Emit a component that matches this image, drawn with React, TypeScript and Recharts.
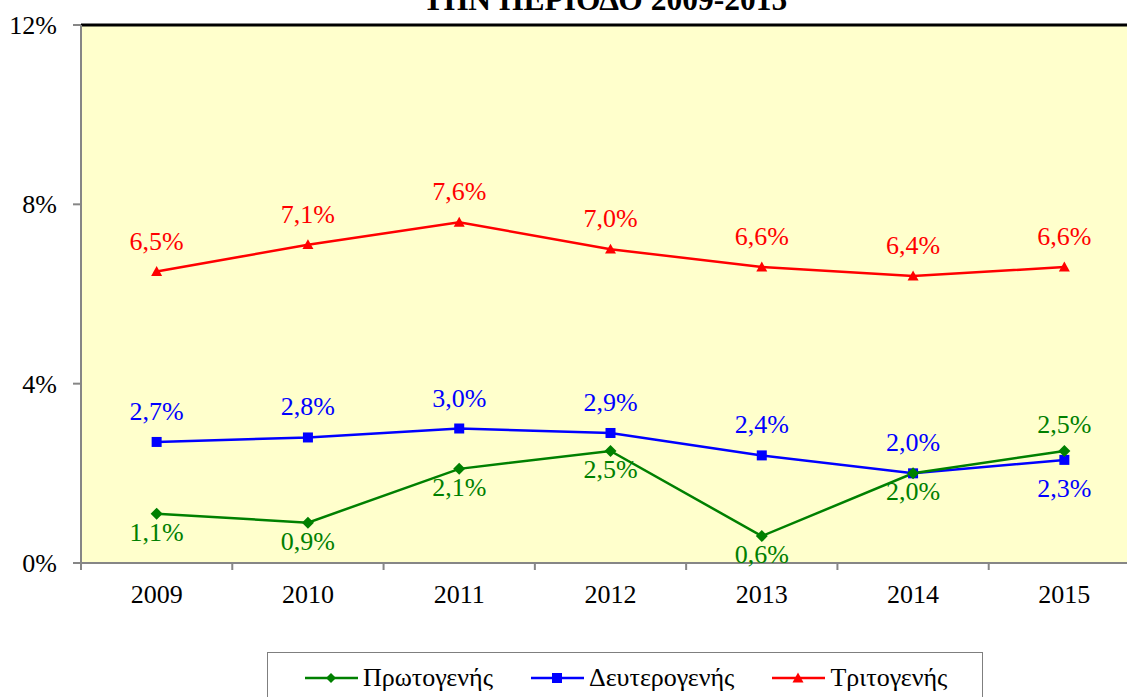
import React from 'react'
import { LineChart, Line, XAxis, YAxis, CartesianGrid, ReferenceLine, LabelList } from 'recharts'

const years = ['2009', '2010', '2011', '2012', '2013', '2014', '2015']
const primary = [1.1, 0.9, 2.1, 2.5, 0.6, 2.0, 2.5]
const secondary = [2.7, 2.8, 3.0, 2.9, 2.4, 2.0, 2.3]
const tertiary = [6.5, 7.1, 7.6, 7.0, 6.6, 6.4, 6.6]
const yTicks = [0, 4, 8, 12]
const seriesNames = ['Πρωτογενής', 'Δευτερογενής', 'Τριτογενής']
const title = 'ΤΗΝ ΠΕΡΙΟΔΟ 2009-2015'

const COLORS = {
  primary: '#008000',
  secondary: '#0000FF',
  tertiary: '#FF0000',
}

const FONT = 'Liberation Serif, Times New Roman, serif'
const CHART_W = 1160
const CHART_H = 697
const Y_AXIS_W = 81
const MARGIN = { top: 25, right: 20, left: 0, bottom: 94 }
const BAND = (CHART_W - Y_AXIS_W - MARGIN.right) / years.length

const data = years.map((year, i) => ({
  year,
  primary: primary[i],
  secondary: secondary[i],
  tertiary: tertiary[i],
}))

const fmt = (v: number) => v.toFixed(1).replace('.', ',') + '%'

// marker shapes
const Diamond = ({ cx, cy, color, s = 6 }: any) => (
  <path d={`M${cx},${cy - s}L${cx + s},${cy}L${cx},${cy + s}L${cx - s},${cy}Z`} fill={color} />
)
const Square = ({ cx, cy, color, s = 5 }: any) => (
  <rect x={cx - s} y={cy - s} width={s * 2} height={s * 2} fill={color} />
)
const Triangle = ({ cx, cy, color, s = 5.5 }: any) => (
  <path d={`M${cx},${cy - s}L${cx + s},${cy + s * 0.8}L${cx - s},${cy + s * 0.8}Z`} fill={color} />
)

const makeLabel = (color: string, isAbove: (i: number) => boolean, above: number, below: number) =>
  (props: any) => {
    const { x, y, value, index } = props
    if (x == null || y == null) return null
    const up = isAbove(index)
    return (
      <text
        x={x}
        y={up ? y - above : y + below}
        textAnchor="middle"
        fill={color}
        style={{ fontSize: 26, fontFamily: FONT }}
      >
        {fmt(value)}
      </text>
    )
  }

const XTick = ({ x, y, payload }: any) => (
  <g>
    <line x1={x - BAND / 2} x2={x - BAND / 2} y1={y} y2={y + 7} stroke="#868686" strokeWidth={2} />
    <text x={x} y={y + 40} textAnchor="middle" fill="#000" style={{ fontSize: 26, fontFamily: FONT }}>
      {payload.value}
    </text>
  </g>
)

const YTick = ({ x, y, payload }: any) => (
  <text x={x} y={y + 9} textAnchor="end" fill="#000" style={{ fontSize: 26, fontFamily: FONT }}>
    {`${payload.value}%`}
  </text>
)

const LegendItem = ({ color, name, marker }: any) => (
  <div style={{ display: 'flex', alignItems: 'center' }}>
    <svg width={53} height={16}>
      <line x1={0} x2={53} y1={8} y2={8} stroke={color} strokeWidth={2.5} />
      {marker === 'diamond' && <Diamond cx={26} cy={8} color={color} s={5} />}
      {marker === 'square' && <Square cx={26} cy={8} color={color} s={5} />}
      {marker === 'triangle' && <Triangle cx={26} cy={8} color={color} s={5.5} />}
    </svg>
    <span style={{ marginLeft: 5, fontSize: 26, lineHeight: '30px' }}>{name}</span>
  </div>
)

export default function App() {
  return (
    <div
      style={{
        position: 'absolute',
        left: 0,
        top: 0,
        width: 1127,
        height: 697,
        overflow: 'hidden',
        background: '#fff',
        fontFamily: FONT,
      }}
    >
      <svg width={1127} height={40} style={{ position: 'absolute', left: 0, top: 0 }}>
        <text
          x={605}
          y={10}
          textAnchor="middle"
          fill="#000"
          style={{ fontSize: 31.5, fontWeight: 'bold', fontFamily: FONT }}
        >
          {title}
        </text>
      </svg>

      <div style={{ position: 'absolute', left: 0, top: 0 }}>
        <LineChart width={CHART_W} height={CHART_H} data={data} margin={MARGIN}>
          <CartesianGrid fill="#FFFFCC" fillOpacity={1} horizontal={false} vertical={false} />
          <ReferenceLine y={12} stroke="#000" strokeWidth={3} />
          <XAxis
            dataKey="year"
            height={40}
            padding={{ left: BAND / 2, right: BAND / 2 }}
            stroke="#868686"
            strokeWidth={2}
            tickLine={false}
            tickSize={0}
            tickMargin={0}
            tick={<XTick />}
            interval={0}
          />
          <YAxis
            width={Y_AXIS_W}
            domain={[0, 12]}
            ticks={yTicks}
            stroke="#868686"
            strokeWidth={2}
            tickSize={8}
            tickMargin={16}
            tick={<YTick />}
          />
          <Line
            dataKey="tertiary"
            stroke={COLORS.tertiary}
            strokeWidth={2.5}
            isAnimationActive={false}
            dot={(p: any) => <Triangle key={`t-${p.index}`} cx={p.cx} cy={p.cy} color={COLORS.tertiary} />}
          >
            <LabelList dataKey="tertiary" content={makeLabel(COLORS.tertiary, () => true, 22, 30)} />
          </Line>
          <Line
            dataKey="secondary"
            stroke={COLORS.secondary}
            strokeWidth={2.5}
            isAnimationActive={false}
            dot={(p: any) => <Square key={`s-${p.index}`} cx={p.cx} cy={p.cy} color={COLORS.secondary} />}
          >
            <LabelList
              dataKey="secondary"
              content={makeLabel(COLORS.secondary, (i) => secondary[i] >= primary[i], 22, 37)}
            />
          </Line>
          <Line
            dataKey="primary"
            stroke={COLORS.primary}
            strokeWidth={2.5}
            isAnimationActive={false}
            dot={(p: any) => <Diamond key={`p-${p.index}`} cx={p.cx} cy={p.cy} color={COLORS.primary} />}
          >
            <LabelList
              dataKey="primary"
              content={makeLabel(COLORS.primary, (i) => primary[i] > secondary[i], 18, 27)}
            />
          </Line>
        </LineChart>
      </div>

      <div
        style={{
          position: 'absolute',
          left: 267,
          top: 652,
          width: 716,
          height: 60,
          border: '1px solid #7f7f7f',
          boxSizing: 'border-box',
          display: 'flex',
          alignItems: 'flex-start',
          paddingTop: 10,
          paddingLeft: 37,
          gap: 38,
        }}
      >
        <LegendItem color={COLORS.primary} name={seriesNames[0]} marker="diamond" />
        <LegendItem color={COLORS.secondary} name={seriesNames[1]} marker="square" />
        <LegendItem color={COLORS.tertiary} name={seriesNames[2]} marker="triangle" />
      </div>
    </div>
  )
}
